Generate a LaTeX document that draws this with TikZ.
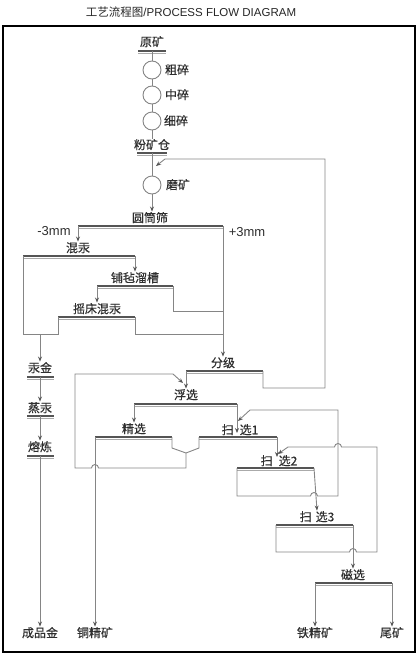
\documentclass[tikz,border=0pt]{standalone}
\usepackage{fontspec}
\setmainfont{Liberation Sans}
\newfontfamily\cjk{Noto Sans CJK SC}[FakeBold=0.4]
\newfontfamily\cjktitle{Noto Sans CJK SC}
\usetikzlibrary{arrows.meta}
\definecolor{linegray}{HTML}{858585}
\definecolor{bargray}{HTML}{555555}
\definecolor{labelgray}{HTML}{2E2E2E}
\tikzset{
  pipe/.style={draw=linegray, line width=0.9pt},
  flow/.style={pipe, -{Stealth[length=5pt,width=4pt,color=bargray]}},
  bar/.style={draw=bargray, line width=1.3pt,
    postaction={draw=linegray!70, line width=0.7pt, transform canvas={yshift=-2.2pt}}},
  lbl/.style={font=\cjk\fontsize{12}{12}\selectfont, text=labelgray, inner sep=1pt,
    text height=9.5pt, text depth=1pt},
  mm/.style={font=\fontsize{13}{13}\selectfont, text=labelgray, inner sep=0pt},
  mill/.style={circle, draw=linegray, line width=0.9pt, minimum size=18pt, inner sep=0pt},
}
\begin{document}
\begin{tikzpicture}[x=1pt,y=-1pt]
\useasboundingbox (0,0) rectangle (420,656);
\draw[line width=1.3pt] (3,26) rectangle (415,652);
\node[font=\fontsize{11.5}{12}\selectfont, text=black!85] (title) at (191,12) {{\cjktitle 工艺流程图}/PROCESS FLOW DIAGRAM};

% crushing
\node[lbl] (yk) at (152,42) {原矿};
\draw[bar] (138,51) coordinate (yk-l) -- (166,51) coordinate (yk-r);
\coordinate (yk-m) at (152,51);
\node[mill] (cs) at (152,70) {};
\node[mill] (zs) at (152,95) {};
\node[mill] (xs) at (152,121) {};
\node[lbl] (cs-t) at (177,70) {粗碎};
\node[lbl] (zs-t) at (177,95) {中碎};
\node[lbl] (xs-t) at (176,121) {细碎};
\node[lbl] (fkc) at (152,145) {粉矿仓};
\draw[bar] (137,153) coordinate (fkc-l) -- (167,153) coordinate (fkc-r);
\coordinate (fkc-m) at (152,153);
\draw[pipe] (yk-m) -- (cs) (cs) -- (zs) (zs) -- (xs) (xs) -- (fkc);

% grinding and screening
\node[mill] (mk) at (152,185) {};
\node[lbl] (mk-t) at (178,185) {磨矿};
\coordinate (mk-in) at (156,166);
\draw[pipe] (fkc-m) -- (mk);
\node[lbl] (yts) at (150,218) {圆筒筛};
\draw[flow] (mk) -- (mk |- yts.north);
\draw[bar] (78,226) coordinate (yts-l) -- (223,226) coordinate (yts-r);
\node[mm] (minus) at (54,231) {-3mm};
\node[mm] (plus) at (247,232) {+3mm};

% amalgamation
\node[lbl] (hh) at (78,248) {混汞};
\draw[flow] (yts-l) -- (hh.north);
\draw[bar] (23,256) coordinate (hh-l) -- (135,256) coordinate (hh-r);
\node[lbl] (pz) at (135,278) {铺毡溜槽};
\draw[flow] (hh-r) -- (pz.north);
\draw[bar] (97,286) coordinate (pz-l) -- (173,286) coordinate (pz-r);
\node[lbl] (yc) at (97,309) {摇床混汞};
\draw[flow] (pz-l) -- (yc.north);
\draw[bar] (58,317) coordinate (yc-l) -- (135,317) coordinate (yc-r);
\draw[pipe] (hh-l) -- (23,334) -- (58,334) -- (yc-l);
\draw[pipe] (yc-r) -- (135,334) -- (223,334);
\draw[pipe] (pz-r) -- (173,311) -- (223,311);

% gold line
\node[lbl] (hj) at (40,368) {汞金};
\draw[flow] (40,334) coordinate (hj-in) -- (hj.north);
\draw[bar] (27,377) coordinate (hj-l) -- (54,377) coordinate (hj-r);
\node[lbl] (zh) at (40,408) {蒸汞};
\draw[flow] (40,377) coordinate (hj-m) -- (zh.north);
\draw[bar] (27,416) coordinate (zh-l) -- (54,416) coordinate (zh-r);
\node[lbl] (rl) at (40,447) {熔炼};
\draw[flow] (40,416) coordinate (zh-m) -- (rl.north);
\draw[bar] (27,456) coordinate (rl-l) -- (54,456) coordinate (rl-r);
\node[lbl] (cpj) at (40,633) {成品金};
\draw[flow] (40,456) coordinate (rl-m) -- (cpj.north);

% classifying
\node[lbl] (fj) at (223,363) {分级};
\draw[flow] (yts-r) -- (fj.north);
\draw[bar] (186,371) coordinate (fj-l) -- (263,371) coordinate (fj-r);
\draw[flow] (fj-r) -- (263,388) -- (325,388) -- (325,159) -- (165,159) -- (mk-in);

% flotation
\node[lbl] (fx) at (186,395) {浮选};
\draw[flow] (fj-l) -- (fx.north);
\coordinate (fx-in) at (183,383);
\draw[bar] (134,404) coordinate (fx-l) -- (237,404) coordinate (fx-r);
\node[lbl] (jx) at (134,429) {精选};
\draw[flow] (fx-l) -- (jx.north);
\draw[bar] (95,437) coordinate (jx-l) -- (172,437) coordinate (jx-r);
\draw[bar] (199,437) coordinate (sx1-l) -- (277,437) coordinate (sx1-r);
\draw[pipe] (jx-r) -- (172,448) -- (186,453) coordinate (jx-v) -- (199,448) -- (sx1-l);
\draw[flow] (jx-v) -- (186,468) -- (98.5,468) arc[start angle=0, end angle=180, radius=3.5pt]
  -- (75,468) -- (75,374) -- (173,374) -- (fx-in);
\node[lbl] (tjk) at (95,633) {铜精矿};
\draw[flow] (jx-l) -- (tjk.north);

% scavenging
\node[lbl] (sx1) at (240,430) {扫\hspace{6pt}选1};
\coordinate (sx1-tip) at (237,433);
\coordinate (sx1-in) at (238,421);
\draw[flow] (fx-r) -- (sx1-tip);
\node[lbl] (sx2) at (279,461) {扫\hspace{6pt}选2};
\coordinate (sx2-tip) at (277,457);
\coordinate (sx2-in) at (278,454);
\draw[flow] (sx1-r) -- (sx2-tip);
\draw[bar] (237,468) coordinate (sx2-l) -- (314,468) coordinate (sx2-r);
\draw[flow] (sx2-l) -- (237,496) -- (310.5,496) arc[start angle=180, end angle=0, radius=3.5pt]
  -- (338,496) -- (338,410) -- (250,410) -- (sx1-in);
\node[lbl] (sx3) at (317,517) {扫\hspace{4pt}选3};
\draw[flow] (sx2-r) -- (sx3.north);
\draw[bar] (276,525) coordinate (sx3-l) -- (353,525) coordinate (sx3-r);
\draw[flow] (sx3-l) -- (276,552) -- (349.5,552) arc[start angle=180, end angle=0, radius=3.5pt]
  -- (377,552) -- (377,447) -- (341.5,447) arc[start angle=0, end angle=180, radius=3.5pt]
  -- (288,447) -- (sx2-in);

% magnetic separation
\node[lbl] (cx) at (353,575) {磁选};
\draw[flow] (sx3-r) -- (cx.north);
\draw[bar] (315,583) coordinate (cx-l) -- (392,583) coordinate (cx-r);
\node[lbl] (tjk2) at (315,633) {铁精矿};
\node[lbl] (wk) at (392,633) {尾矿};
\draw[flow] (cx-l) -- (tjk2.north);
\draw[flow] (cx-r) -- (wk.north);
\end{tikzpicture}
\end{document}
